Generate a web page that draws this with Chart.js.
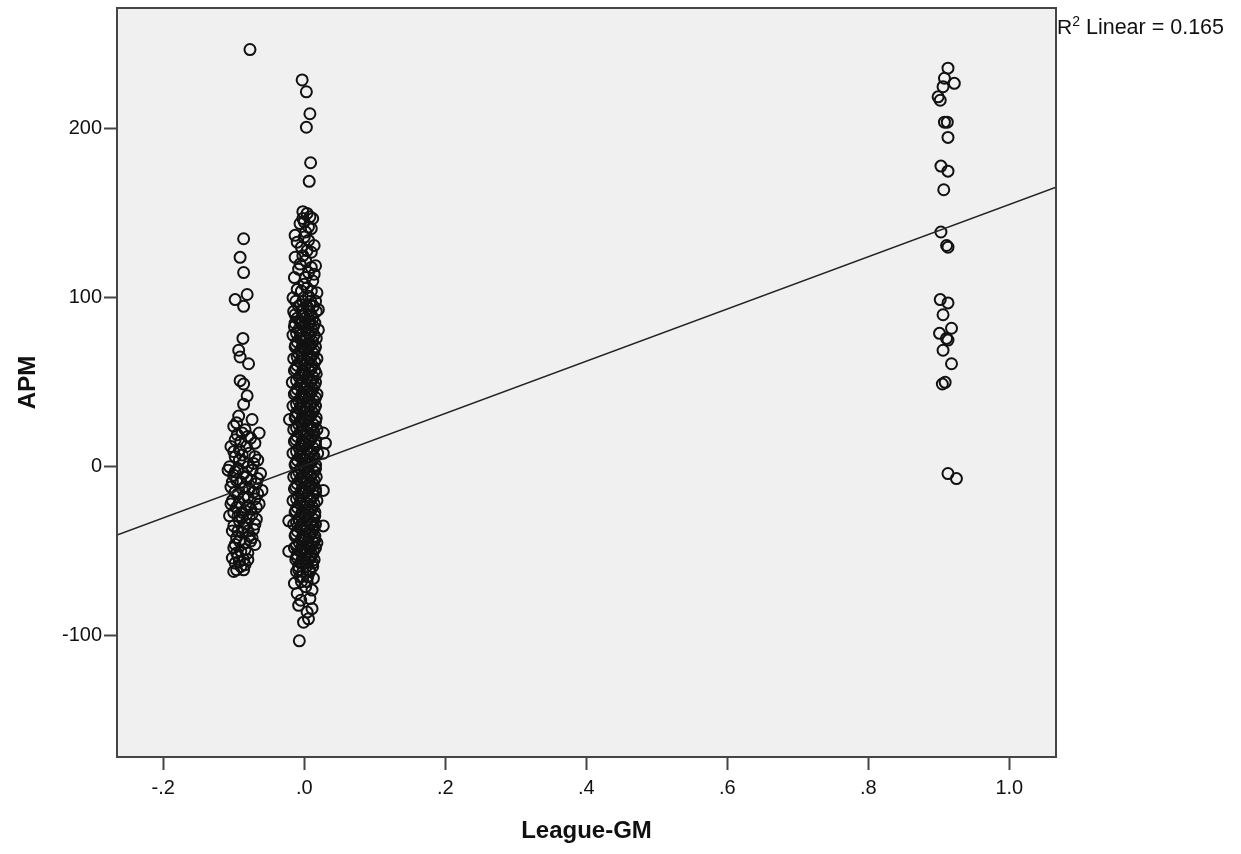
<!DOCTYPE html>
<html lang="en">
<head>
<meta charset="UTF-8" />
<title>APM vs League-GM</title>
<script src="https://cdn.jsdelivr.net/npm/chart.js"></script>
<style>
  html, body { margin: 0; padding: 0; background: #fff; }
</style>
</head>
<body>
<canvas id="scatter" width="1241" height="854"></canvas>

<script>
// axis ranges and tick labels (SPSS style)
const xMin = -0.2656, xMax = 1.0662;
const yMin = -171.8, yMax = 271.6;
const xTickValues = [-0.2, 0, 0.2, 0.4, 0.6, 0.8, 1.0];
const xTickLabels = ['-.2', '.0', '.2', '.4', '.6', '.8', '1.0'];
const yTickValues = [-100, 0, 100, 200];
const yTickLabels = ['-100', '0', '100', '200'];

// linear fit shown on the chart
const fitIntercept = 0.66;
const fitSlope = 154.6;
const r2Text = 'Linear = 0.165';

// points around League-GM = -.09  [x, y]
const leftPoints = [
  [-0.077, 247],
  [-0.086, 135], [-0.091, 124], [-0.086, 115], [-0.081, 102], [-0.098, 99], [-0.086, 95],
  [-0.087, 76], [-0.093, 69], [-0.091, 65], [-0.079, 61], [-0.091, 51], [-0.086, 49],
  [-0.081, 42], [-0.086, 37], [-0.093, 30], [-0.074, 28], [-0.095, 19], [-0.064, 20],
  [-0.100, 24], [-0.084, 22], [-0.070, 14], [-0.104, 12], [-0.090, 15], [-0.078, 8],
  [-0.098, 6], [-0.066, 4], [-0.086, 3], [-0.106, 0], [-0.094, -1], [-0.074, -2],
  [-0.062, -4], [-0.100, -5], [-0.082, -6], [-0.090, -9], [-0.068, -10], [-0.104, -12],
  [-0.060, -14], [-0.078, -13], [-0.094, -16], [-0.086, -18], [-0.070, -19], [-0.102, -20],
  [-0.064, -22], [-0.080, -23], [-0.096, -24], [-0.088, -27], [-0.074, -28], [-0.106, -29],
  [-0.068, -31], [-0.092, -32], [-0.082, -34], [-0.100, -35], [-0.072, -37], [-0.088, -39],
  [-0.078, -41], [-0.096, -42], [-0.084, -45], [-0.070, -46], [-0.100, -48], [-0.090, -50],
  [-0.080, -51], [-0.094, -53], [-0.086, -55], [-0.098, -57], [-0.090, -59], [-0.096, -61],
  [-0.084, -58], [-0.092, 10], [-0.080, 18], [-0.096, -8], [-0.076, -25], [-0.108, -2],
  [-0.066, -16], [-0.088, 7], [-0.094, -38], [-0.076, -44], [-0.088, -30], [-0.084, -12],
  [-0.072, 2], [-0.098, 16], [-0.104, -22], [-0.100, -62],
  [-0.096, 26], [-0.088, 20], [-0.076, 17], [-0.100, 9], [-0.082, 12], [-0.070, 6],
  [-0.092, 4], [-0.080, 0], [-0.098, -3], [-0.086, -4], [-0.066, -7], [-0.076, -8],
  [-0.102, -9], [-0.088, -13], [-0.072, -15], [-0.098, -15], [-0.080, -18], [-0.092, -21],
  [-0.068, -24], [-0.084, -26], [-0.100, -27], [-0.078, -30], [-0.094, -29], [-0.070, -34],
  [-0.086, -36], [-0.102, -38], [-0.080, -38], [-0.092, -44], [-0.074, -42], [-0.098, -46],
  [-0.084, -49], [-0.096, -51], [-0.080, -55], [-0.092, -56], [-0.102, -54], [-0.086, -61]
];

// points around League-GM = 0  [x, y]
const zeroPoints = [
  [-0.003, 229], [0.003, 222], [0.008, 209], [0.003, 201], [0.009, 180], [0.007, 169],
  [-0.002, 151], [0.004, 150], [0.008, 148], [0.012, 147], [-0.006, 144], [0.000, 145],
  [0.010, 141], [0.002, 139], [-0.013, 137], [0.006, 134], [-0.010, 133], [0.014, 131],
  [-0.004, 130], [0.004, 128], [0.010, 127], [-0.013, 124], [0.002, 122], [-0.006, 120],
  [0.016, 119], [-0.008, 117], [0.006, 115], [0.014, 114], [-0.014, 112], [0.012, 110],
  [0.000, 108], [0.004, 106], [-0.010, 105], [0.018, 103], [0.006, 101], [-0.016, 100],
  [0.020, 93], [0.020, 81], [-0.021, 28], [0.027, 20], [0.030, 14], [0.027, 8],
  [0.027, -14], [-0.022, -32], [0.027, -35], [0.018, -45], [-0.022, -50], [-0.010, -75],
  [0.011, -73], [-0.008, -82], [0.011, -84], [0.004, -86], [-0.001, -92], [0.006, -90],
  [-0.007, -103], [-0.005, -79], [0.008, -78], [-0.014, -69], [0.013, -66],
  [-0.002, 147], [0.006, 142], [0.000, 136], [-0.002, 125], [0.010, 118], [0.002, 112],
  [-0.004, 104], [0.010, 104],
  [-0.012, 98], [-0.002, 98], [0.009, 98], [0.016, 98],
  [-0.008, 95], [0.004, 95], [0.013, 95], [-0.005, 96], [0.008, 96],
  [-0.015, 92], [-0.003, 92], [0.007, 92], [0.017, 92],
  [-0.010, 88], [0.001, 88], [0.012, 88], [-0.013, 90], [-0.002, 90], [0.010, 90],
  [-0.013, 85], [-0.004, 85], [0.006, 85], [0.015, 85], [-0.006, 86], [0.008, 86],
  [-0.008, 81], [0.003, 81], [0.011, 81], [-0.014, 83], [0.000, 83], [0.013, 83],
  [-0.016, 78], [-0.005, 78], [0.008, 78], [0.014, 78], [-0.011, 79], [0.006, 79],
  [-0.010, 74], [0.000, 74], [0.012, 74], [-0.006, 76], [0.003, 76], [0.017, 76],
  [-0.013, 71], [-0.003, 71], [0.006, 71], [0.016, 71], [-0.012, 72], [0.009, 72],
  [-0.008, 67], [0.004, 67], [0.013, 67], [-0.005, 69], [0.002, 69], [0.014, 69],
  [-0.015, 64], [-0.004, 64], [0.008, 64], [0.018, 64], [-0.010, 65], [0.010, 65],
  [-0.010, 60], [0.001, 60], [0.011, 60], [-0.006, 62], [0.005, 62], [0.015, 62],
  [-0.014, 57], [-0.002, 57], [0.007, 57], [0.015, 57], [-0.012, 58], [0.010, 58],
  [-0.007, 53], [0.004, 53], [0.013, 53], [-0.004, 55], [0.002, 55], [0.017, 55],
  [-0.017, 50], [-0.004, 50], [0.009, 50], [0.016, 50], [-0.011, 51], [0.011, 51],
  [-0.010, 46], [0.001, 46], [0.012, 46], [-0.006, 48], [0.005, 48], [0.014, 48],
  [-0.014, 43], [-0.003, 43], [0.007, 43], [0.018, 43], [-0.012, 44], [0.010, 44],
  [-0.008, 39], [0.004, 39], [0.014, 39], [-0.004, 41], [0.002, 41], [0.016, 41],
  [-0.016, 36], [-0.005, 36], [0.008, 36], [0.016, 36], [-0.011, 37], [0.010, 37],
  [-0.011, 32], [0.001, 32], [0.012, 32], [-0.006, 34], [0.005, 34], [0.014, 34],
  [-0.013, 29], [-0.003, 29], [0.006, 29], [0.017, 29], [-0.012, 30], [0.009, 30],
  [-0.008, 25], [0.004, 25], [0.013, 25], [-0.005, 27], [0.002, 27], [0.016, 27],
  [-0.015, 22], [-0.004, 22], [0.009, 22], [0.018, 22], [-0.011, 23], [0.010, 23],
  [-0.010, 18], [0.002, 18], [0.012, 18], [-0.006, 20], [0.005, 20], [0.014, 20],
  [-0.014, 15], [-0.003, 15], [0.007, 15], [0.016, 15], [-0.012, 16], [0.009, 16],
  [-0.007, 11], [0.004, 11], [0.013, 11], [-0.004, 13], [0.002, 13], [0.016, 13],
  [-0.016, 8], [-0.005, 8], [0.008, 8], [0.019, 8], [-0.011, 9], [0.010, 9],
  [-0.010, 4], [0.001, 4], [0.012, 4], [-0.006, 6], [0.005, 6], [0.014, 6],
  [-0.013, 1], [-0.002, 1], [0.006, 1], [0.016, 1], [-0.012, 2], [0.009, 2],
  [-0.008, -3], [0.004, -3], [0.014, -3], [-0.005, -1], [0.002, -1], [0.016, -1],
  [-0.015, -6], [-0.004, -6], [0.009, -6], [0.017, -6], [-0.011, -5], [0.010, -5],
  [-0.010, -10], [0.002, -10], [0.012, -10], [-0.006, -8], [0.005, -8], [0.014, -8],
  [-0.014, -13], [-0.003, -13], [0.007, -13], [0.016, -13], [-0.012, -12], [0.009, -12],
  [-0.008, -17], [0.004, -17], [0.013, -17], [-0.004, -15], [0.002, -15], [0.016, -15],
  [-0.016, -20], [-0.005, -20], [0.008, -20], [0.018, -20], [-0.011, -19], [0.010, -19],
  [-0.010, -24], [0.001, -24], [0.012, -24], [-0.006, -22], [0.005, -22], [0.014, -22],
  [-0.013, -27], [-0.003, -27], [0.006, -27], [0.015, -27], [-0.012, -26], [0.009, -26],
  [-0.008, -31], [0.004, -31], [0.013, -31], [-0.005, -29], [0.002, -29], [0.015, -29],
  [-0.015, -34], [-0.004, -34], [0.009, -34], [0.016, -34], [-0.011, -33], [0.010, -33],
  [-0.010, -38], [0.002, -38], [0.012, -38], [-0.006, -36], [0.005, -36], [0.014, -36],
  [-0.013, -41], [-0.002, -41], [0.007, -41], [0.015, -41], [-0.012, -40], [0.009, -40],
  [-0.007, -45], [0.004, -45], [0.013, -45], [-0.004, -43], [0.002, -43], [0.015, -43],
  [-0.014, -48], [-0.004, -48], [0.008, -48], [0.016, -48], [-0.011, -47], [0.010, -47],
  [-0.010, -52], [0.001, -52], [0.011, -52], [-0.006, -50], [0.005, -50], [0.013, -50],
  [-0.012, -55], [-0.003, -55], [0.006, -55], [0.014, -55], [-0.010, -54], [0.009, -54],
  [-0.008, -59], [0.003, -59], [0.012, -59], [-0.005, -57], [0.002, -57], [0.012, -57],
  [-0.011, -62], [-0.002, -62], [0.008, -62], [-0.008, -61], [0.007, -61],
  [-0.006, -65], [0.005, -65], [-0.004, -68], [0.004, -68], [0.002, -71]
];

// points around League-GM = .91  [x, y]
const rightPoints = [
  [0.913, 236], [0.908, 230], [0.922, 227], [0.906, 225], [0.899, 219], [0.902, 217],
  [0.908, 204], [0.912, 204], [0.913, 195], [0.903, 178], [0.913, 175], [0.907, 164],
  [0.903, 139], [0.913, 130], [0.911, 131],
  [0.902, 99], [0.913, 97], [0.906, 90], [0.918, 82], [0.901, 79], [0.911, 76],
  [0.913, 75], [0.906, 69], [0.918, 61], [0.909, 50], [0.905, 49],
  [0.913, -4], [0.925, -7]
];

const toXY = p => ({ x: p[0], y: p[1] });
const allPoints = leftPoints.concat(zeroPoints, rightPoints).map(toXY);
const fitLine = [xMin, xMax].map(x => ({ x: x, y: fitIntercept + fitSlope * x }));

// grey plot background, frame and R² label
const plotFrame = {
  id: 'plotFrame',
  beforeDraw(chart) {
    const { ctx, chartArea: a } = chart;
    ctx.save();
    ctx.fillStyle = '#f0f0f0';
    ctx.fillRect(a.left, a.top, a.right - a.left, a.bottom - a.top);
    ctx.restore();
  },
  afterDraw(chart) {
    const { ctx, chartArea: a } = chart;
    ctx.save();
    ctx.strokeStyle = '#454545';
    ctx.lineWidth = 2;
    ctx.strokeRect(a.left, a.top, a.right - a.left, a.bottom - a.top);

    let x = a.right + 1;
    const base = 34;
    ctx.fillStyle = '#111';
    ctx.textBaseline = 'alphabetic';
    ctx.font = '21px "Liberation Sans", Arial, sans-serif';
    ctx.fillText('R', x, base);
    x += ctx.measureText('R').width;
    ctx.font = '14px "Liberation Sans", Arial, sans-serif';
    ctx.fillText('2', x, base - 8);
    x += ctx.measureText('2').width + 6;
    ctx.font = '21.5px "Liberation Sans", Arial, sans-serif';
    ctx.fillText(r2Text, x, base);
    ctx.restore();
  }
};

const tickFont = { family: '"Liberation Sans", Arial, sans-serif', size: 20 };
const titleFont = { family: '"Liberation Sans", Arial, sans-serif', size: 24, weight: 'bold' };

new Chart(document.getElementById('scatter'), {
  type: 'scatter',
  data: {
    datasets: [
      {
        label: 'Fit',
        data: fitLine,
        showLine: true,
        borderColor: '#222',
        borderWidth: 1.5,
        pointRadius: 0
      },
      {
        label: 'APM',
        data: allPoints,
        pointStyle: 'circle',
        pointRadius: 5.5,
        borderWidth: 2,
        borderColor: '#111',
        backgroundColor: 'rgba(0,0,0,0)'
      }
    ]
  },
  options: {
    responsive: false,
    animation: false,
    events: [],
    layout: { padding: { left: 0, top: 8, right: 185, bottom: 0 } },
    plugins: { legend: { display: false }, tooltip: { enabled: false } },
    scales: {
      x: {
        type: 'linear',
        min: xMin,
        max: xMax,
        afterBuildTicks: axis => { axis.ticks = xTickValues.map(v => ({ value: v })); },
        afterFit: axis => { axis.height = 97; axis.paddingLeft = 0; axis.paddingRight = 0; },
        ticks: {
          color: '#111',
          font: tickFont,
          padding: 6,
          maxRotation: 0,
          callback: (v, i) => xTickLabels[i]
        },
        grid: { drawOnChartArea: false, drawTicks: true, tickLength: 13, tickWidth: 2, tickColor: '#454545' },
        border: { display: false },
        title: { display: true, text: 'League-GM', color: '#111', font: titleFont, padding: { top: 0, bottom: 8 } }
      },
      y: {
        type: 'linear',
        min: yMin,
        max: yMax,
        afterBuildTicks: axis => { axis.ticks = yTickValues.map(v => ({ value: v })); },
        afterFit: axis => { axis.width = 117; axis.paddingTop = 0; axis.paddingBottom = 0; },
        ticks: {
          color: '#111',
          font: tickFont,
          padding: 2,
          callback: (v, i) => yTickLabels[i]
        },
        grid: { drawOnChartArea: false, drawTicks: true, tickLength: 13, tickWidth: 2, tickColor: '#454545' },
        border: { display: false },
        title: { display: true, text: 'APM', color: '#111', font: titleFont, padding: { top: 14, bottom: 0 } }
      }
    }
  },
  plugins: [plotFrame]
});
</script>
</body>
</html>
